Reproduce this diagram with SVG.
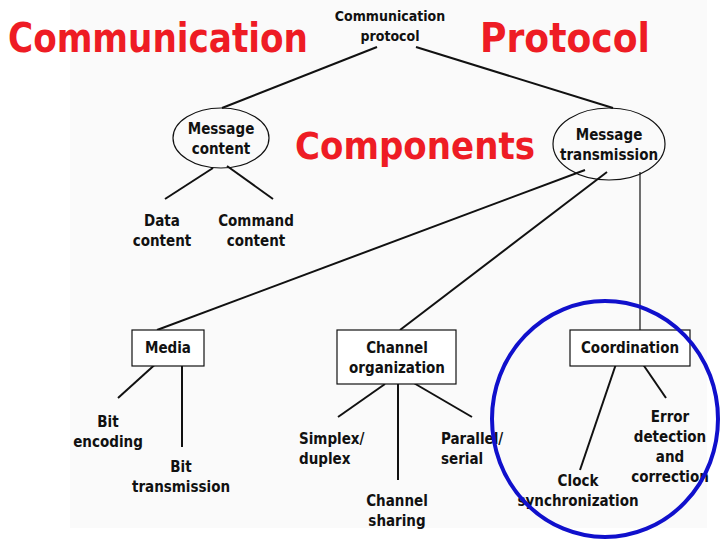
<svg xmlns="http://www.w3.org/2000/svg" width="720" height="540" viewBox="0 0 720 540">
<style>
.t{font-family:"DejaVu Sans Condensed","DejaVu Sans","Liberation Sans",sans-serif;font-weight:bold;font-size:15px;fill:#111;text-anchor:middle}
.l{text-anchor:start}
.r{font-family:"DejaVu Sans Condensed","DejaVu Sans","Liberation Sans",sans-serif;font-weight:bold;fill:#ee1c24;font-size:40px}
.c line{stroke:#111;stroke-width:2}
.box{fill:#fff;stroke:#111;stroke-width:1.2}
.ell{fill:none;stroke:#111;stroke-width:1.2}
</style>
<rect x="0" y="0" width="720" height="540" fill="#fff"/>
<rect x="70" y="0" width="637" height="528" fill="#fafafa"/>
<g id="titles">
<text class="r" x="8" y="52" textLength="300" lengthAdjust="spacingAndGlyphs">Communication</text>
<text class="r" x="480" y="52" textLength="170" lengthAdjust="spacingAndGlyphs">Protocol</text>
<text class="r" x="295" y="159" style="font-size:37px" textLength="240" lengthAdjust="spacingAndGlyphs">Components</text>
</g>
<g class="c" id="connectors">
<line x1="377" y1="47" x2="222" y2="108"/>
<line x1="416" y1="47" x2="613" y2="108"/>
<line x1="213" y1="168" x2="165" y2="199"/>
<line x1="227" y1="166" x2="273" y2="199"/>
<line x1="585" y1="170" x2="157" y2="330"/>
<line x1="607" y1="172" x2="400" y2="330"/>
<line x1="640" y1="172" x2="640" y2="330" style="stroke-width:1.2"/>
<line x1="160" y1="360" x2="118" y2="398"/>
<line x1="182" y1="361" x2="182" y2="447"/>
<line x1="385" y1="384" x2="338" y2="417"/>
<line x1="398" y1="382" x2="398" y2="480"/>
<line x1="412" y1="382" x2="472" y2="417"/>
<line x1="616" y1="364" x2="580" y2="470"/>
<line x1="640" y1="360" x2="666" y2="398"/>
</g>
<g id="root"><text class="t" x="390" y="21" style="font-size:14px">Communication</text><text class="t" x="390" y="41" style="font-size:14px">protocol</text></g>
<g id="msgcontent"><ellipse class="ell" cx="221" cy="138" rx="48" ry="30"/><text class="t" x="221" y="134">Message</text><text class="t" x="221" y="154">content</text></g>
<g id="msgtrans"><ellipse class="ell" cx="609" cy="144" rx="56" ry="36"/><text class="t" x="609" y="140">Message</text><text class="t" x="609" y="160">transmission</text></g>
<g id="data"><text class="t" x="162" y="226">Data</text><text class="t" x="162" y="246">content</text></g>
<g id="command"><text class="t" x="256" y="226">Command</text><text class="t" x="256" y="246">content</text></g>
<g id="media"><rect class="box" x="132" y="330" width="72" height="36"/><text class="t" x="168" y="353">Media</text></g>
<g id="chorg"><rect class="box" x="337" y="330" width="119" height="54"/><text class="t" x="397" y="353">Channel</text><text class="t" x="397" y="373">organization</text></g>
<g id="coord"><rect class="box" x="570" y="330" width="120" height="36"/><text class="t" x="630" y="353">Coordination</text></g>
<g id="bitenc"><text class="t" x="108" y="427">Bit</text><text class="t" x="108" y="447">encoding</text></g>
<g id="bittrans"><text class="t" x="181" y="472">Bit</text><text class="t" x="181" y="492">transmission</text></g>
<g id="simplex"><text class="t l" x="299" y="444">Simplex/</text><text class="t l" x="299" y="464">duplex</text></g>
<g id="sharing"><text class="t" x="397" y="506">Channel</text><text class="t" x="397" y="526">sharing</text></g>
<g id="parallel"><text class="t l" x="441" y="444">Parallel/</text><text class="t l" x="441" y="464">serial</text></g>
<g id="clock"><text class="t" x="578" y="486">Clock</text><text class="t" x="578" y="506">synchronization</text></g>
<g id="error"><text class="t" x="670" y="422">Error</text><text class="t" x="670" y="442">detection</text><text class="t" x="670" y="462">and</text><text class="t" x="670" y="482">correction</text></g>
<g id="highlight"><ellipse cx="605" cy="419" rx="113" ry="118" fill="none" stroke="#1010cc" stroke-width="4"/></g>
</svg>
